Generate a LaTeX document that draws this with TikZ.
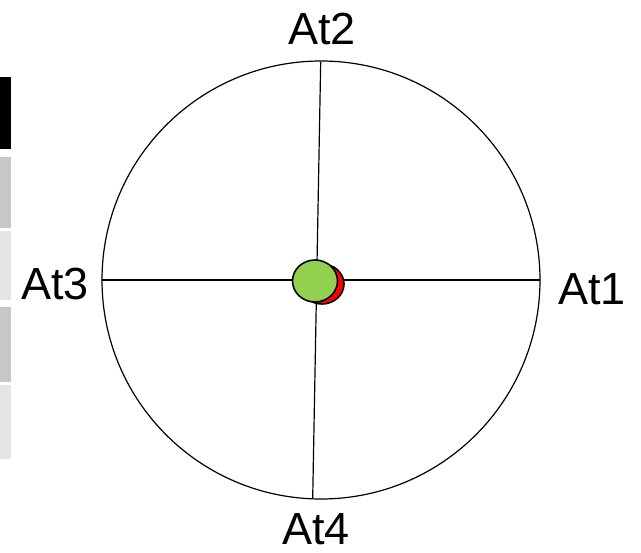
\documentclass[tikz,border=0pt]{standalone}
\usepackage{fontspec}
\setmainfont{Liberation Sans}
\begin{document}
\begin{tikzpicture}[x=1pt,y=-1pt,
  lab/.style={font=\fontsize{45}{50}\selectfont, inner sep=0pt},
  ln/.style={draw=black, line width=1.2pt}]
\useasboundingbox (0,0) rectangle (641,553);
% left bars
\fill[black] (0,77) rectangle (11,149);
\fill[black!22] (0,157) rectangle (11,228);
\fill[black!10] (0,231) rectangle (11,300);
\fill[black!22] (0,307) rectangle (11,382);
\fill[black!10] (0,385) rectangle (11,459);
% circle
\node[circle, draw=black, line width=1.2pt, minimum size=438pt, inner sep=0pt] (dial) at (321,280) {};
\coordinate (top) at (320.7,62);
\coordinate (bot) at (312.7,498);
\coordinate (lft) at (102,280);
\coordinate (rgt) at (540,280);
\draw[ln] (lft) -- (rgt);
\draw[ln] (top) -- (bot);
% markers
\draw[line width=1.6pt, fill=red] (322,284) ellipse [x radius=22, y radius=20];
\draw[line width=1.6pt, fill={rgb,255:red,146;green,208;blue,80}] (315,281) ellipse [x radius=22.5, y radius=21];
% labels
\node[lab, anchor=base] (a2) at (322,45) {At2};
\node[lab, anchor=base] (a4) at (316,545) {At4};
\node[lab, anchor=base west] (a3) at (21,300) {At3};
\node[lab, anchor=base west] (a1) at (558,305) {At1};
\end{tikzpicture}
\end{document}
